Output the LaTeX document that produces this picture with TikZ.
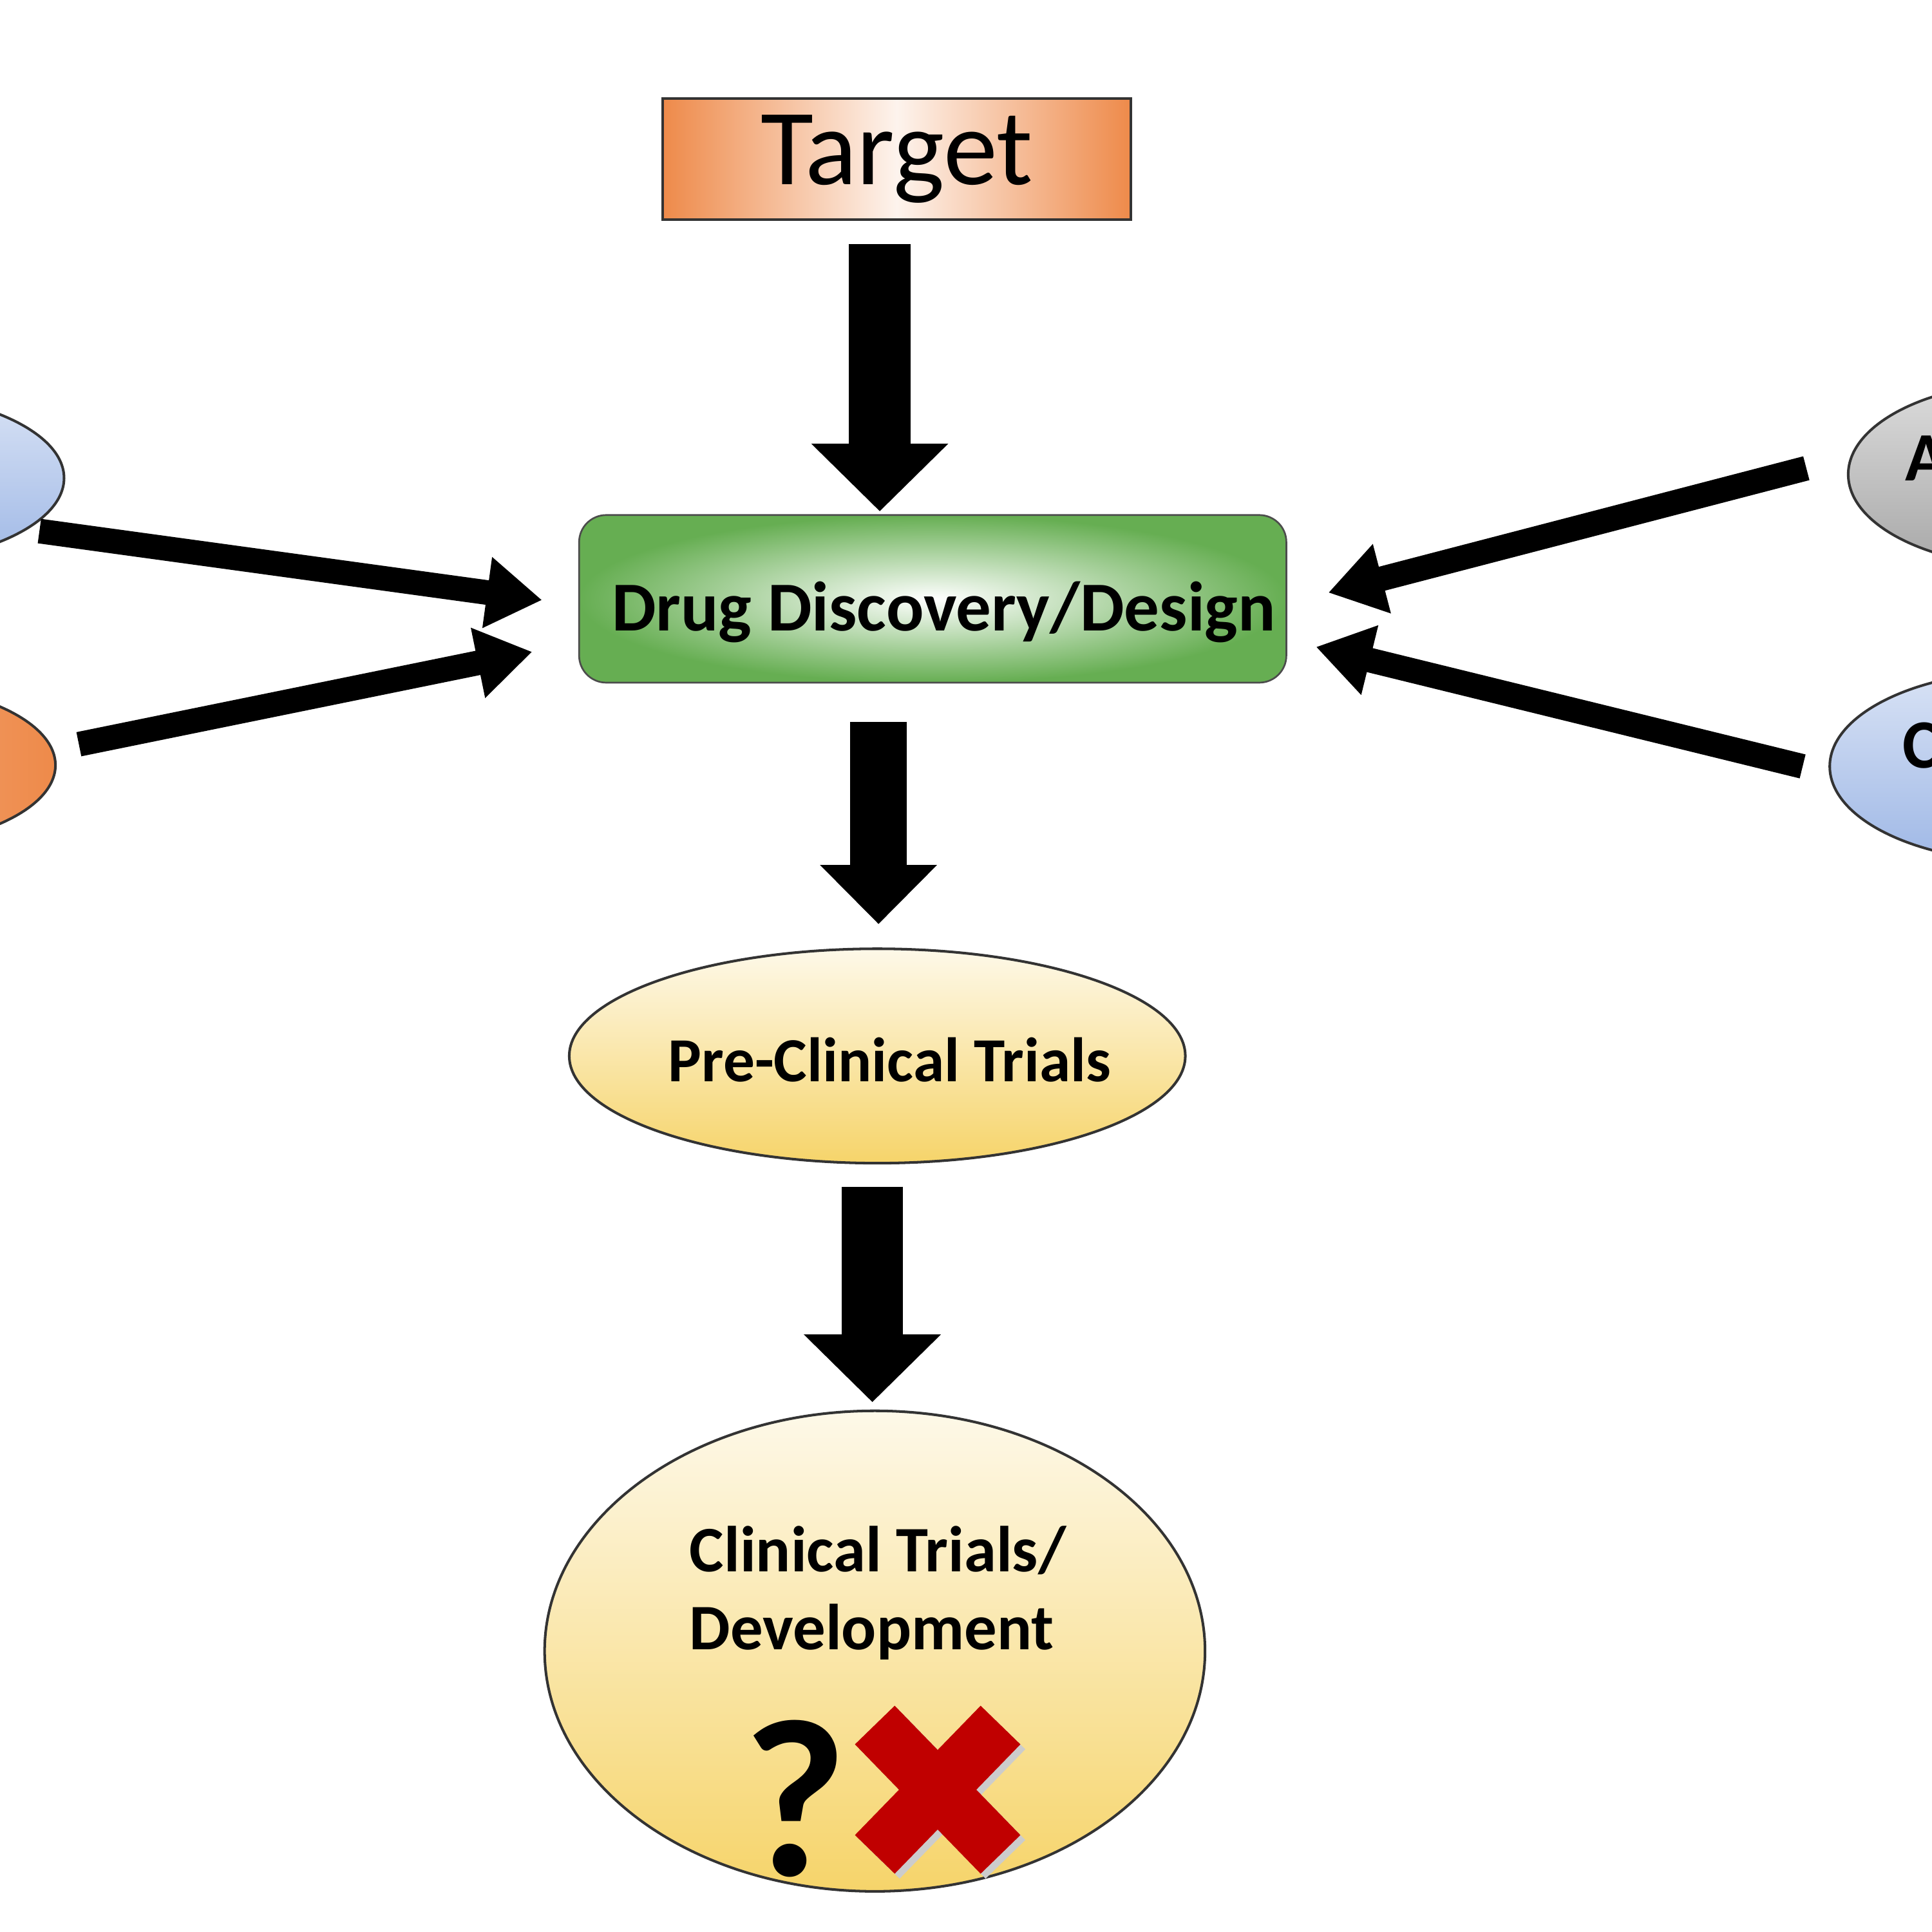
\documentclass[tikz,border=0pt]{standalone}
\usepackage{fontspec}
\setmainfont{Carlito}
\usetikzlibrary{arrows.meta,shapes.geometric}
\definecolor{org}{HTML}{EE8A4A}
\definecolor{grn}{HTML}{66AE52}
\definecolor{yel}{HTML}{F6D46A}
\definecolor{blu}{HTML}{9FB8E6}
\definecolor{gry}{HTML}{A8A8A8}
\definecolor{xred}{HTML}{C00000}
\tikzset{
  big/.style={line width=0.5cm,-{Triangle[length=0.55cm,width=1.08cm]}},
  thin/.style={line width=0.2cm,-{Triangle[length=0.45cm,width=0.55cm]}},
  ell/.style={ellipse,draw=black!80,line width=0.6pt,inner sep=0pt},
}
\begin{document}
\begin{tikzpicture}[x=0.1mm,y=-0.1mm]
\useasboundingbox (0,0) rectangle (1568,1568);
\clip (0,0) rectangle (1568,1568);
\fill[white] (0,0) rectangle (1568,1568);
% side ellipses
\node[ell,minimum width=3.2cm,minimum height=1.4cm,top color=blu!40,bottom color=blu] (b1) at (-108,388) {};
\node[anchor=east,font=\bfseries\fontsize{16}{16}\selectfont] (b1t) at (8,410) {)};
\node[ell,minimum width=3cm,minimum height=1.33cm,left color=org!60,right color=org] (o1) at (-105,621) {};
\node[ell,minimum width=3cm,minimum height=1.5cm,top color=gry!40,bottom color=gry] (g1) at (1650,385) {};
\node[anchor=west,font=\bfseries\fontsize{16}{16}\selectfont] (g1t) at (1534,372) {A};
\node[ell,minimum width=3.2cm,minimum height=1.55cm,top color=blu!40,bottom color=blu] (b2) at (1645,622) {};
\node[anchor=west,font=\bfseries\fontsize{16}{16}\selectfont] (b2t) at (1532,605) {Co};
% main nodes
\node[draw=black!80,line width=0.6pt,minimum width=3.8cm,minimum height=0.98cm,left color=org,right color=org,middle color=org!10,font=\fontsize{25}{25}\selectfont,inner sep=0pt] (t) at (728,129) {Target};
\node[draw=black!70,rounded corners=0.22cm,minimum width=5.74cm,minimum height=1.36cm,inner sep=0pt,inner color=white,outer color=grn] (d) at (757,486) {};
\node[font=\bfseries\fontsize{16.2}{16}\selectfont] (dt) at (766,497) {Drug Discovery/Design};
\node[ell,minimum width=5cm,minimum height=1.74cm,top color=yel!15,bottom color=yel] (p) at (712,857) {};
\node[font=\bfseries\fontsize{14.5}{14.5}\selectfont] (pt) at (722,860) {Pre-Clinical Trials};
\node[ell,minimum width=5.36cm,minimum height=3.9cm,top color=yel!15,bottom color=yel] (c) at (710,1340) {};
\node[anchor=north west,align=left,inner sep=0pt,font=\bfseries\fontsize{15}{18}\selectfont] (ct) at (559,1238) {Clinical Trials/\\Development};
\node[font=\bfseries\fontsize{52}{52}\selectfont,inner sep=0pt] (q) at (645,1460) {?};
% red X
\coordinate (x1) at (710,1400); \coordinate (x2) at (812,1505);
\coordinate (x3) at (812,1400); \coordinate (x4) at (710,1505);
\draw[black!20,line width=0.45cm] ([shift={(4,4)}]x1) -- ([shift={(4,4)}]x2) ([shift={(4,4)}]x3) -- ([shift={(4,4)}]x4);
\draw[xred,line width=0.45cm] (x1) -- (x2) (x3) -- (x4);
% arrow coordinates
\coordinate (a1s) at (714,198); \coordinate (a1e) at (714,415);
\coordinate (a2s) at (713,586); \coordinate (a2e) at (713,750);
\coordinate (a3s) at (708,963); \coordinate (a3e) at (708,1138);
\coordinate (l1s) at (32,431); \coordinate (l1e) at (440,487);
\coordinate (l2s) at (64,604); \coordinate (l2e) at (432,529);
\coordinate (r1s) at (1466,380); \coordinate (r1e) at (1078,481);
\coordinate (r2s) at (1463,622); \coordinate (r2e) at (1068,525);
\draw[big] (a1s) -- (a1e);
\draw[big,line width=0.46cm,-{Triangle[length=0.48cm,width=0.92cm]}] (a2s) -- (a2e);
\draw[big] (a3s) -- (a3e);
\draw[thin] (l1s) -- (l1e);
\draw[thin] (l2s) -- (l2e);
\draw[thin] (r1s) -- (r1e);
\draw[thin] (r2s) -- (r2e);
\end{tikzpicture}
\end{document}
